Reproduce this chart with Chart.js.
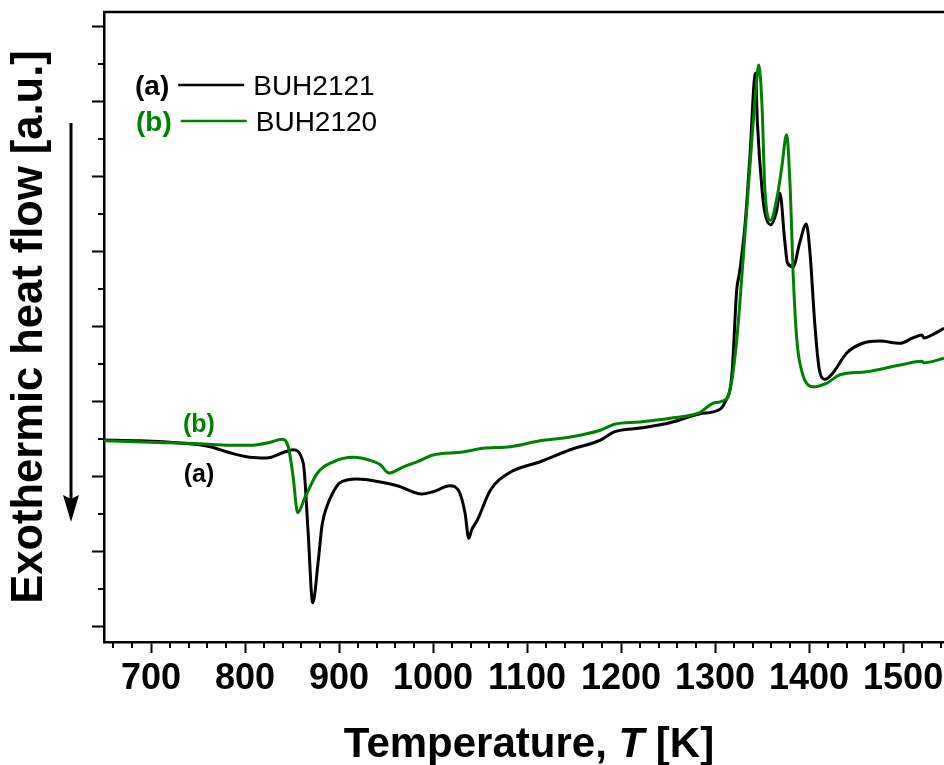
<!DOCTYPE html>
<html>
<head>
<meta charset="utf-8">
<script src="https://cdn.jsdelivr.net/npm/chart.js@4.4.1/dist/chart.umd.min.js"></script>
<style>
  html, body { margin: 0; padding: 0; background: #fff; }
  #wrap { width: 944px; height: 765px; position: relative; }
</style>
</head>
<body>
<div id="wrap"><canvas id="dsc"></canvas></div>
<script>
// DSC traces, heating, arbitrary units (exo down)
const seriesNames = ["BUH2121", "BUH2120"];
const seriesTags = ["(a)", "(b)"];
const seriesColors = ["#000000", "#008000"];

const tempA = [650, 688, 731, 763, 784, 805, 823, 842, 851, 862, 867, 872, 878, 882, 887,
  894, 901, 919, 944, 962, 988, 1000, 1018, 1027, 1034, 1038, 1041, 1047, 1061, 1082,
  1114, 1146, 1178, 1193, 1220, 1252, 1284, 1302, 1310, 1318, 1323, 1326, 1332, 1337, 1343,
  1345, 1350, 1353, 1359, 1365, 1369, 1374, 1377, 1383, 1390, 1397, 1401, 1406, 1411, 1417,
  1425, 1440, 1457, 1475, 1497, 1510, 1520, 1522, 1532, 1543.5];
const flowA = [2.48, 2.47, 2.44, 2.39, 2.31, 2.25, 2.24, 2.32, 2.35, 2.17, 1.28, 0.31, 0.88, 1.35, 1.59,
  1.79, 1.91, 1.96, 1.92, 1.87, 1.76, 1.79, 1.87, 1.81, 1.51, 1.17, 1.28, 1.41, 1.81, 2.05,
  2.19, 2.35, 2.48, 2.59, 2.64, 2.71, 2.83, 2.87, 2.97, 3.37, 4.48, 4.71, 5.37, 6.25, 7.37,
  6.71, 5.81, 5.51, 5.35, 5.51, 5.77, 5.15, 4.84, 4.79, 5.11, 5.36, 4.97, 4.04, 3.41, 3.29,
  3.37, 3.64, 3.77, 3.80, 3.77, 3.84, 3.88, 3.84, 3.89, 3.97];

const tempB = [650, 699, 752, 784, 805, 827, 839, 846, 851, 856, 864, 877, 894, 915, 933,
  944, 953, 968, 983, 1000, 1032, 1053, 1082, 1114, 1146, 1178, 1193, 1220, 1252, 1284,
  1298, 1308, 1316, 1323, 1330, 1337, 1344, 1346.5, 1350, 1353, 1359, 1366, 1371, 1376, 1380,
  1383, 1387, 1392, 1404, 1419, 1433, 1461, 1497, 1520, 1522, 1543.5];
const flowB = [2.47, 2.45, 2.43, 2.41, 2.41, 2.45, 2.49, 2.39, 2.01, 1.51, 1.72, 2.04, 2.19, 2.25, 2.21,
  2.15, 2.04, 2.12, 2.19, 2.28, 2.32, 2.37, 2.39, 2.47, 2.52, 2.61, 2.69, 2.72, 2.77, 2.85,
  2.97, 3.00, 3.15, 3.81, 4.92, 6.12, 7.24, 7.48, 6.92, 5.81, 5.41, 5.72, 6.12, 6.55, 5.81,
  4.71, 3.81, 3.41, 3.19, 3.24, 3.35, 3.39, 3.48, 3.53, 3.51, 3.57];

const xTicks = [700, 800, 900, 1000, 1100, 1200, 1300, 1400, 1500];
const yTicks = [0, 1, 2, 3, 4, 5, 6, 7, 8];

// where the (a)/(b) tags sit inside the plot, in data units
const tagPosT = [751, 751];
const tagPosY = [1.92, 2.59];

const xTitle = ["Temperature, ", "T", " [K]"];
const yTitle = "Exothermic heat flow [a.u.]";

const FAMILY = '"Liberation Sans", Arial, Helvetica, sans-serif';

const decor = {
  id: "decor",
  afterDraw(chart) {
    const { ctx, chartArea: ca, scales } = chart;
    const xs = scales.x, ys = scales.y;
    ctx.save();

    // top frame line
    ctx.strokeStyle = "#000";
    ctx.lineWidth = 2.5;
    ctx.beginPath();
    ctx.moveTo(ca.left - 1, ca.top);
    ctx.lineTo(ca.right, ca.top);
    ctx.stroke();

    // minor ticks
    ctx.lineWidth = 2;
    ctx.beginPath();
    for (let t = 660; t < xs.max; t += 20) {
      if (t % 100 === 0) continue;
      const px = Math.round(xs.getPixelForValue(t));
      ctx.moveTo(px, ca.bottom);
      ctx.lineTo(px, ca.bottom + 6);
    }
    for (let v = 0.5; v < ys.max; v += 1) {
      const py = Math.round(ys.getPixelForValue(v));
      ctx.moveTo(ca.left, py);
      ctx.lineTo(ca.left - 6, py);
    }
    ctx.stroke();

    // down arrow = exothermic
    const ax = ca.left - 33;
    ctx.lineWidth = 3;
    ctx.beginPath();
    ctx.moveTo(ax, ca.top + 111);
    ctx.lineTo(ax, ca.top + 490);
    ctx.stroke();
    ctx.fillStyle = "#000";
    ctx.beginPath();
    ctx.moveTo(ax - 8, ca.top + 483);
    ctx.lineTo(ax, ca.top + 487);
    ctx.lineTo(ax + 8, ca.top + 483);
    ctx.lineTo(ax, ca.top + 510);
    ctx.closePath();
    ctx.fill();

    // legend
    ctx.textBaseline = "alphabetic";
    ctx.textAlign = "left";
    for (let i = 0; i < seriesNames.length; i++) {
      const base = ca.top + 83 + i * 36;
      let x = ca.left + 31 + i;
      ctx.font = "bold 28px " + FAMILY;
      ctx.fillStyle = seriesColors[i];
      ctx.fillText(seriesTags[i], x, base);
      x += ctx.measureText(seriesTags[i]).width + 9;
      ctx.strokeStyle = seriesColors[i];
      ctx.lineWidth = 2.7;
      ctx.beginPath();
      ctx.moveTo(x, base - 10);
      ctx.lineTo(x + 66, base - 10);
      ctx.stroke();
      ctx.font = "28px " + FAMILY;
      ctx.fillStyle = "#000";
      ctx.fillText(seriesNames[i], x + 75, base);
    }

    // curve tags
    ctx.textAlign = "center";
    ctx.font = "bold 25px " + FAMILY;
    for (let i = 0; i < seriesTags.length; i++) {
      ctx.fillStyle = seriesColors[i];
      ctx.fillText(seriesTags[i], xs.getPixelForValue(tagPosT[i]), ys.getPixelForValue(tagPosY[i]));
    }

    // x title with italic T
    const fonts = ["bold 42px " + FAMILY, "italic bold 42px " + FAMILY, "bold 42px " + FAMILY];
    let w = 0;
    const widths = xTitle.map((s, k) => { ctx.font = fonts[k]; const m = ctx.measureText(s).width; w += m; return m; });
    let tx = (ca.left + ca.right) / 2 + 5 - w / 2;
    ctx.textAlign = "left";
    ctx.fillStyle = "#000";
    xTitle.forEach((s, k) => {
      ctx.font = fonts[k];
      ctx.fillText(s, tx, ca.bottom + 115);
      tx += widths[k];
    });
    ctx.restore();
  }
};

new Chart(document.getElementById("dsc"), {
  type: "line",
  data: {
    datasets: [
      {
        label: seriesNames[0],
        data: tempA.map((t, i) => ({ x: t, y: flowA[i] })),
        borderColor: seriesColors[0],
        borderWidth: 3,
        pointRadius: 0,
        cubicInterpolationMode: "monotone",
        order: 1
      },
      {
        label: seriesNames[1],
        data: tempB.map((t, i) => ({ x: t, y: flowB[i] })),
        borderColor: seriesColors[1],
        borderWidth: 3,
        pointRadius: 0,
        cubicInterpolationMode: "monotone",
        order: 0
      }
    ]
  },
  options: {
    responsive: true,
    maintainAspectRatio: false,
    animation: false,
    layout: { padding: { top: 12, right: 0, bottom: 0, left: 0 } },
    plugins: { legend: { display: false }, tooltip: { enabled: false } },
    scales: {
      x: {
        type: "linear",
        min: 650,
        max: 1543.5,
        afterBuildTicks: (s) => { s.ticks = xTicks.map(v => ({ value: v })); },
        afterFit: (s) => { s.height = 123; s.paddingLeft = 0; s.paddingRight = 0; },
        border: { display: true, color: "#000", width: 2.5 },
        grid: { drawOnChartArea: false, drawTicks: true, tickLength: 11, tickColor: "#000", tickWidth: 2 },
        ticks: {
          padding: 4,
          maxRotation: 0,
          autoSkip: false,
          color: "#000",
          font: { family: FAMILY, size: 36, weight: "bold" },
          callback: (v) => String(v)
        }
      },
      y: {
        min: -0.213,
        max: 8.187,
        afterBuildTicks: (s) => { s.ticks = yTicks.map(v => ({ value: v })); },
        afterFit: (s) => { s.width = 104; },
        border: { display: true, color: "#000", width: 2.5 },
        grid: { drawOnChartArea: false, drawTicks: true, tickLength: 12, tickColor: "#000", tickWidth: 2 },
        ticks: { display: false },
        title: {
          display: true,
          text: yTitle,
          color: "#000",
          font: { family: FAMILY, size: 43.5, weight: "bold", lineHeight: 1 },
          padding: { top: 8, bottom: 40 }
        }
      }
    }
  },
  plugins: [decor]
});
</script>
</body>
</html>
